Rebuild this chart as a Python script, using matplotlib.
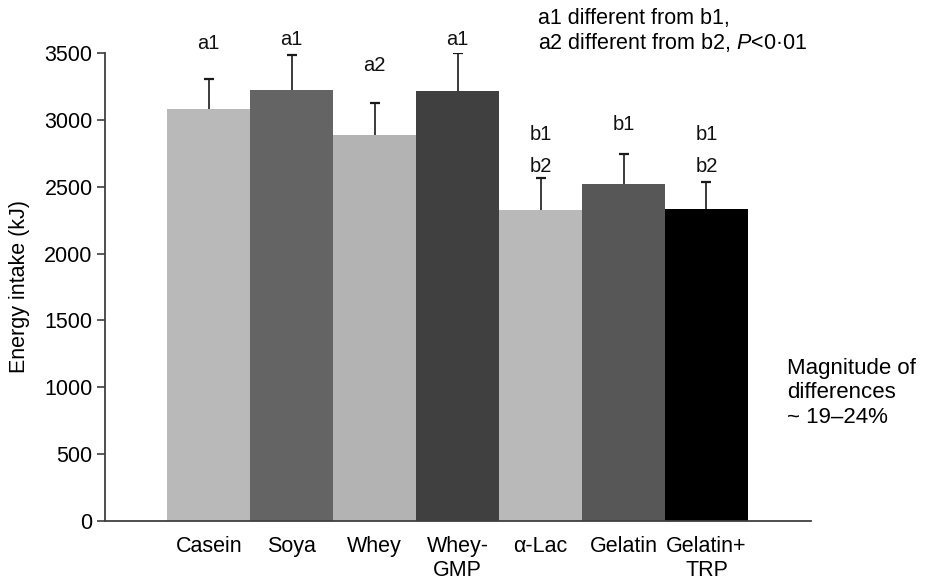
import matplotlib
matplotlib.use("Agg")
import matplotlib.pyplot as plt
import numpy as np

plt.rcParams['font.family'] = ['Liberation Sans', 'DejaVu Sans']
plt.rcParams['mathtext.fontset'] = 'custom'
plt.rcParams['mathtext.rm'] = 'Liberation Sans'
plt.rcParams['mathtext.it'] = 'Liberation Sans:italic'

categories = ["Casein", "Soya", "Whey", "Whey-\nGMP", "α-Lac", "Gelatin", "Gelatin+\nTRP"]
energy = [3082, 3222, 2885, 3220, 2330, 2525, 2336]
sem = [225, 268, 240, 285, 235, 222, 199]
bar_colors = ["#b9b9b9", "#646464", "#b3b3b3", "#404040", "#b9b9b9", "#575757", "#000000"]
letters = [["a1"], ["a1"], ["a2"], ["a1"], ["b1", "b2"], ["b1"], ["b1", "b2"]]
letter_y = [[3575], [3605], [3405], [3605], [2895, 2650], [2965], [2895, 2650]]
yticks = [0, 500, 1000, 1500, 2000, 2500, 3000, 3500]

W, H = 926, 581
fig = plt.figure(figsize=(W / 100, H / 100), dpi=100)
ax = fig.add_axes([105 / W, 1 - 520.7 / H, (811 - 105) / W, (520.7 - 53.3) / H])

x = np.arange(len(categories))
e = np.array(energy)
s = np.array(sem)
ax.bar(x, e, width=1.0, color=bar_colors, edgecolor='none', zorder=2)
ax.vlines(x, e, e + s, color='#1a1a1a', linewidth=1.2, zorder=3)
ax.plot(x, e + s, linestyle='none', marker='_', markersize=7.5, markeredgewidth=1.6,
        color='#1a1a1a', zorder=3)

for xi, labs, ys in zip(x, letters, letter_y):
    for lab, yy in zip(labs, ys):
        ax.text(xi, yy, lab, ha='center', va='center', fontsize=14.5, color='#111111')

ax.set_xlim(-1.25, 7.26)
ax.set_ylim(0, 3500)
ax.set_yticks(yticks)
ax.set_yticklabels([str(t) for t in yticks], fontsize=15.5)
ax.set_xticks(x)
ax.set_xticklabels(categories, fontsize=15.5, linespacing=1.2)
ax.tick_params(axis='x', length=0, pad=11)
ax.tick_params(axis='y', length=6, width=1.2, color='#404040', direction='out', pad=3)

for sp in ['top', 'right']:
    ax.spines[sp].set_visible(False)
for sp in ['left', 'bottom']:
    ax.spines[sp].set_color('#404040')
    ax.spines[sp].set_linewidth(1.3)

fig.text(20 / W, 1 - 286 / H, "Energy intake (kJ)", rotation=90, ha='center', va='center',
         fontsize=15.5)

fig.text(538 / W, 1 - 31 / H, "a1 different from b1,\na2 different from b2, $\\mathit{P}$<0·01",
         ha='left', va='center', fontsize=15.5, linespacing=1.15)

fig.text(787 / W, 1 - 393 / H, "Magnitude of\ndifferences\n~ 19–24%",
         ha='left', va='center', fontsize=16, linespacing=1.2)

fig.savefig("out.png", dpi=100)
